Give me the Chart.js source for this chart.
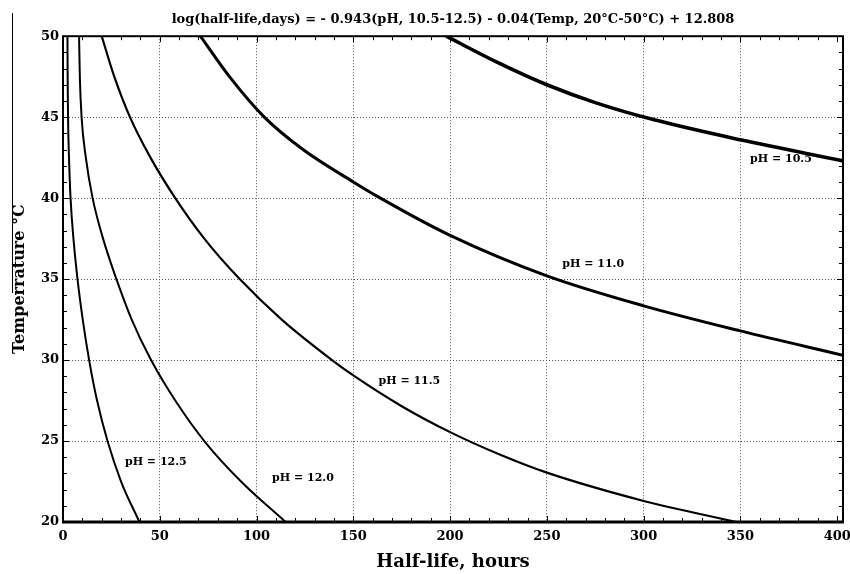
<!DOCTYPE html>
<html>
<head>
<meta charset="utf-8">
<script src="https://cdn.jsdelivr.net/npm/chart.js@4.4.0/dist/chart.umd.min.js"></script>
<style>
  html, body { margin: 0; padding: 0; background: #fff; }
</style>
</head>
<body>
<canvas id="halfLifeChart" width="850" height="574"></canvas>
<script>
// values
const curveNames = ['pH = 10.5', 'pH = 11.0', 'pH = 11.5', 'pH = 12.0', 'pH = 12.5'];

const hours105 = [198, 225, 250, 275, 305, 350, 403];
const temps105 = [50, 48.35, 47.0, 45.9, 44.85, 43.6, 42.3];

const hours110 = [71, 86, 104, 124, 150, 164, 200, 250, 300, 350, 403];
const temps110 = [50, 47.5, 45, 43, 41.0, 40, 37.7, 35.2, 33.35, 31.8, 30.3];

const hours115 = [20, 26.5, 34.6, 45.2, 58, 73, 91.3, 113, 139, 150, 175, 200, 225, 250, 300, 325, 348];
const temps115 = [50, 47.5, 45, 42.5, 40, 37.5, 35, 32.5, 30, 29.05, 27.15, 25.55, 24.2, 23.05, 21.3, 20.6, 20];

const hours120 = [8.3, 8.7, 9.6, 11.8, 15.3, 20.7, 27.6, 35.5, 45.5, 58, 73, 92, 115];
const temps120 = [50, 47.5, 45, 42.5, 40, 37.5, 35, 32.5, 30, 27.5, 25, 22.5, 20];

const hours125 = [2.3, 2.4, 2.6, 3.1, 3.9, 5.4, 7.5, 10.2, 13.5, 17.6, 23.0, 30, 39.5];
const temps125 = [50, 47.5, 45, 42.5, 40, 37.5, 35, 32.5, 30, 27.5, 25, 22.5, 20];

// where the pH captions sit (left edge, vertical middle)
const labelHours = [355, 258, 163, 108, 32];
const labelTemps = [42.4, 35.9, 28.7, 22.7, 23.7];

const titleText = 'log(half-life,days) = - 0.943(pH, 10.5-12.5) - 0.04(Temp, 20°C-50°C) + 12.808';

function toPoints(xs, ys) {
    return xs.map((h, i) => ({ x: h, y: ys[i] }));
}

const allHours = [hours105, hours110, hours115, hours120, hours125];
const allTemps = [temps105, temps110, temps115, temps120, temps125];
const lineWidths = [3.6, 3, 2.2, 2, 2];

const datasets = curveNames.map((name, i) => ({
    label: name,
    data: toPoints(allHours[i], allTemps[i]),
    showLine: true,
    borderColor: '#000',
    borderWidth: lineWidths[i],
    pointRadius: 0,
    cubicInterpolationMode: 'monotone'
}));

const frameAndTicks = {
    id: 'frameAndTicks',
    afterDatasetsDraw(chart) {
        const { ctx, chartArea: a, scales: { x, y } } = chart;
        ctx.save();
        ctx.strokeStyle = '#000';
        ctx.lineWidth = 1;
        ctx.beginPath();
        for (let v = 10; v < 403; v += 10) {
            const px = Math.round(x.getPixelForValue(v)) + 0.5;
            const len = v % 50 === 0 ? 6 : 4;
            ctx.moveTo(px, a.bottom); ctx.lineTo(px, a.bottom - len);
            ctx.moveTo(px, a.top); ctx.lineTo(px, a.top + len);
        }
        for (let v = 21; v < 50; v++) {
            const py = Math.round(y.getPixelForValue(v)) + 0.5;
            const len = v % 5 === 0 ? 6 : 4;
            ctx.moveTo(a.left, py); ctx.lineTo(a.left + len, py);
            ctx.moveTo(a.right, py); ctx.lineTo(a.right - len, py);
        }
        ctx.stroke();

        // box round the plot
        ctx.lineWidth = 2;
        ctx.strokeRect(a.left, a.top, a.right - a.left, a.bottom - a.top);
        ctx.lineWidth = 3;
        ctx.beginPath();
        ctx.moveTo(a.left - 1, a.bottom);
        ctx.lineTo(a.right + 1, a.bottom);
        ctx.stroke();

        // stray scan line at the far left
        ctx.lineWidth = 1;
        ctx.beginPath();
        ctx.moveTo(12.5, 13);
        ctx.lineTo(12.5, 293);
        ctx.stroke();

        // curve captions
        ctx.fillStyle = '#000';
        ctx.font = 'bold 11px "DejaVu Serif", serif';
        ctx.textAlign = 'left';
        ctx.textBaseline = 'middle';
        curveNames.forEach((name, i) => {
            ctx.fillText(name, x.getPixelForValue(labelHours[i]), y.getPixelForValue(labelTemps[i]));
        });
        ctx.restore();
    }
};

const hideEdge = (lo, hi) => (c) => {
    const v = c.tick ? c.tick.value : null;
    return (v === lo || v === hi) ? 'rgba(0,0,0,0)' : '#555';
};

new Chart(document.getElementById('halfLifeChart').getContext('2d'), {
    type: 'scatter',
    data: { datasets: datasets },
    options: {
        responsive: false,
        animation: false,
        layout: { padding: { left: 0, right: 7, top: 0, bottom: 0 } },
        plugins: {
            legend: { display: false },
            tooltip: { enabled: false },
            title: {
                display: true,
                text: titleText,
                color: '#000',
                fullSize: false,
                font: { family: '"DejaVu Serif", serif', size: 13, weight: 'bold' },
                padding: { top: 12, bottom: 8.6 }
            }
        },
        scales: {
            x: {
                type: 'linear',
                min: 0,
                max: 403,
                afterFit: (s) => { s.height = 52; s.paddingLeft = 0; s.paddingRight = 0; },
                ticks: {
                    stepSize: 50,
                    includeBounds: false,
                    color: '#000',
                    padding: 7,
                    maxRotation: 0,
                    font: { family: '"DejaVu Serif", serif', size: 13, weight: 'bold' }
                },
                grid: { color: hideEdge(0, 400), lineWidth: 1, drawTicks: false },
                border: { display: false, dash: [1, 2] },
                title: {
                    display: true,
                    text: 'Half-life, hours',
                    color: '#000',
                    font: { family: '"DejaVu Serif", serif', size: 18, weight: 'bold' },
                    padding: { top: 0, bottom: 1 }
                }
            },
            y: {
                type: 'linear',
                min: 20,
                max: 50,
                afterFit: (s) => { s.width = 63; s.paddingTop = 0; s.paddingBottom = 0; },
                ticks: {
                    stepSize: 5,
                    color: '#000',
                    padding: 4,
                    font: { family: '"DejaVu Serif", serif', size: 13, weight: 'bold' }
                },
                grid: { color: hideEdge(20, 50), lineWidth: 1, drawTicks: false },
                border: { display: false, dash: [1, 2] },
                title: {
                    display: true,
                    text: 'Temperrature °C',
                    color: '#000',
                    font: { family: '"DejaVu Serif", serif', size: 16, weight: 'bold' },
                    padding: { top: 10, bottom: 0 }
                }
            }
        }
    },
    plugins: [frameAndTicks]
});
</script>
</body>
</html>
